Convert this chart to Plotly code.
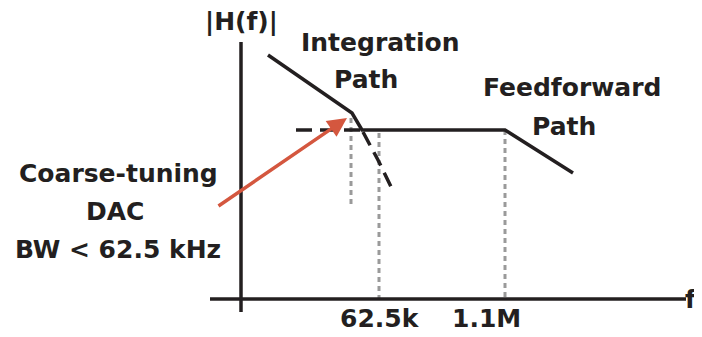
import plotly.graph_objects as go

# schematic units: x ~ log frequency, y ~ |H(f)| (origin where the axes cross)
axis_h_x = [-3.1, 44.5]
axis_h_y = [0, 0]
axis_v_x = [0, 0]
axis_v_y = [-1.3, 25.7]

# overall response: integration slope -> flat -> feedforward roll-off
resp_x = [2.7, 11.1, 12.1, 26.4, 33.2]
resp_y = [24.4, 18.6, 16.9, 16.9, 12.6]

# dashed pieces: DAC level and integration path roll-off
dac_x = [5.5, 12.1]
dac_y = [16.9, 16.9]
rolloff_x = [12.2, 13.7, 15.3]
rolloff_y = [16.7, 13.9, 10.6]

# gray marker lines (x, y_top, y_bottom)
guide_x = [11.0, 13.8, 26.4]
guide_top = [18.1, 16.6, 16.9]
guide_bot = [9.2, 0, 0]

# arrow from DAC label to the DAC level
arrow_tail = (-2.4, 9.2)
arrow_tip = (10.6, 18.1)

tick_labels = ["62.5k", "1.1M"]
tick_label_x = [13.9, 24.5]
tick_label_y = -1.9

labels = [
    ("|H(f)|", 0.0, 27.8),
    ("Integration", 13.9, 25.7),
    ("Path", 12.5, 22.0),
    ("Feedforward", 33.1, 21.2),
    ("Path", 32.3, 17.3),
    ("Coarse-tuning", -12.3, 12.6),
    ("DAC", -12.6, 8.8),
    ("BW < 62.5 kHz", -12.3, 5.0),
    ("f", 45.0, 0.0),
]

BLACK = "#231f20"
GRAY = "#9a9a9a"
RED = "#d4573f"
FONT = dict(family="DejaVu Sans", size=25, color=BLACK, weight="bold")

fig = go.Figure()

for gx, gt, gb in zip(guide_x, guide_top, guide_bot):
    fig.add_trace(go.Scatter(x=[gx, gx], y=[gt, gb], mode="lines",
                             line=dict(color=GRAY, width=3, dash="5px,4px")))

fig.add_trace(go.Scatter(x=axis_h_x, y=axis_h_y, mode="lines",
                         line=dict(color=BLACK, width=3.5)))
fig.add_trace(go.Scatter(x=axis_v_x, y=axis_v_y, mode="lines",
                         line=dict(color=BLACK, width=3.5)))

fig.add_trace(go.Scatter(x=dac_x, y=dac_y, mode="lines",
                         line=dict(color=BLACK, width=3.5, dash="16px,8px")))
fig.add_trace(go.Scatter(x=rolloff_x, y=rolloff_y, mode="lines",
                         line=dict(color=BLACK, width=3.5, dash="15px,8px")))
fig.add_trace(go.Scatter(x=resp_x, y=resp_y, mode="lines",
                         line=dict(color=BLACK, width=3.5)))

annotations = []
annotations.append(dict(
    x=arrow_tip[0], y=arrow_tip[1], ax=arrow_tail[0], ay=arrow_tail[1],
    xref="x", yref="y", axref="x", ayref="y", text="",
    showarrow=True, arrowhead=2, arrowsize=1.1, arrowwidth=3.5, arrowcolor=RED,
))
for txt, lx, ly in labels:
    annotations.append(dict(x=lx, y=ly, text=txt, showarrow=False,
                            xanchor="center", yanchor="middle", font=FONT))
for txt, lx in zip(tick_labels, tick_label_x):
    annotations.append(dict(x=lx, y=tick_label_y, text=txt, showarrow=False,
                            xanchor="center", yanchor="middle", font=FONT))

# page body keeps an 8px margin, so the figure is 8px smaller than the window
fig.update_layout(
    width=694, height=329,
    margin=dict(l=0, r=0, t=0, b=0),
    plot_bgcolor="white", paper_bgcolor="white",
    xaxis=dict(range=[-23.3, 46.1], visible=False),
    yaxis=dict(range=[-3.8, 29.1], visible=False),
    showlegend=False,
    annotations=annotations,
)

fig.write_html("out.html")
